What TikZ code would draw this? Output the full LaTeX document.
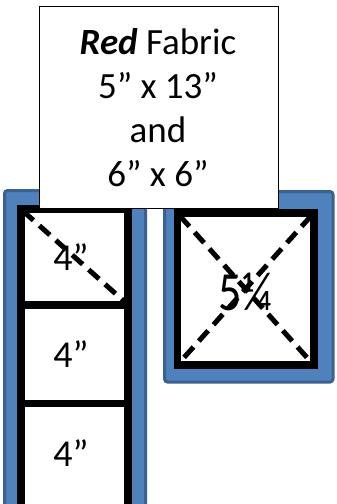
\documentclass[tikz,border=0pt]{standalone}
\usepackage{fontspec}
\setmainfont{Carlito}
\definecolor{bfill}{HTML}{4F81BD}
\definecolor{bdraw}{HTML}{3A6192}
\begin{document}
\begin{tikzpicture}[x=1pt,y=-1pt,
  bluebox/.style={fill=bfill,draw=bdraw,line width=3pt,rounded corners=3pt},
  blackbox/.style={draw=black,line width=7.5pt},
  cutline/.style={draw=black,line width=5pt,dash pattern=on 14pt off 8pt},
  lbl/.style={font=\fontsize{38}{42}\selectfont,inner sep=0pt},
  title/.style={draw=black,line width=1.2pt,fill=white,inner sep=0pt}]
\useasboundingbox (0,0) rectangle (337,504);
\begin{scope}
\clip (0,0) rectangle (337,504);
% left column
\draw[bluebox] (4.5,190.5) rectangle (145.5,520);
\fill[white] (21,209) rectangle (128,515);
\node[lbl] (c1) at (71,257) {4”};
\node[lbl] (c2) at (71,354) {4”};
\node[lbl] (c3) at (71,453) {4”};
\draw[blackbox] (21,209) rectangle (128,515);
\draw[blackbox] (21,305) -- (128,305);
\draw[blackbox] (21,403.5) -- (128,403.5);
\coordinate (d1) at (23,211);
\coordinate (d2) at (126,303);
\draw[cutline] (d1) -- (d2);
% right square
\draw[bluebox] (164.5,191.5) rectangle (333,382);
\fill[white] (177.5,213) rectangle (314,365);
\node[lbl,font=\fontsize{46}{50}\selectfont,yscale=1.2] (sq) at (245,292) {5¼};
\draw[blackbox] (177.5,213) rectangle (314,365);
\coordinate (e1) at (180,216);
\coordinate (e2) at (311,362);
\coordinate (e3) at (311,216);
\coordinate (e4) at (180,362);
\draw[cutline] (e1) -- (e2);
\draw[cutline] (e3) -- (e4);
% title box
\node[title,minimum width=239pt,minimum height=202pt,anchor=north west] (t) at (39,6) {};
\node[align=center,font=\fontsize{37}{44}\selectfont,inner sep=0pt,anchor=base] (tt) at (158,186)
  {\textbf{\textit{Red}} Fabric\\5” x 13”\\and\\6” x 6”};
\end{scope}
\end{tikzpicture}
\end{document}
